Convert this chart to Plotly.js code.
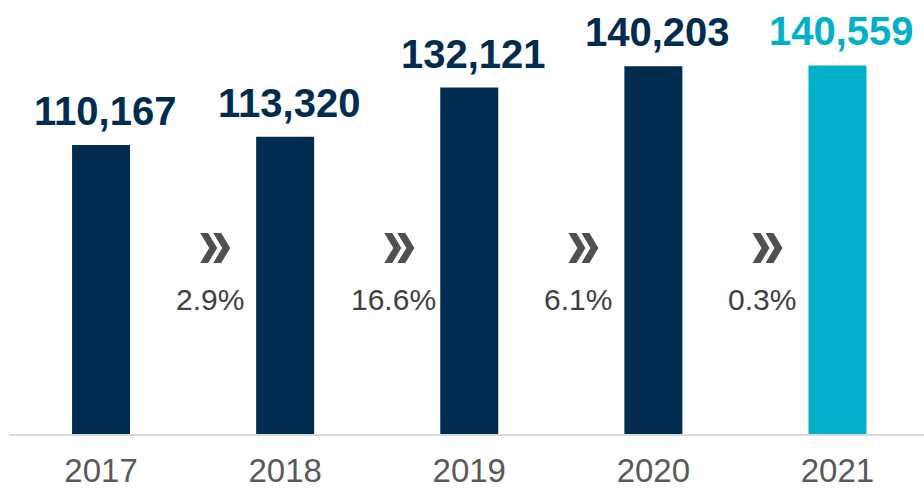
<!DOCTYPE html>
<html>
<head>
<meta charset="utf-8">
<script src="https://cdn.plot.ly/plotly-3.0.1.min.js"></script>
<style>
  html, body { margin: 0; padding: 0; background: #fff; }
  #plot { width: 924px; height: 491px; }
</style>
</head>
<body>
<div id="plot"></div>
<script>
// datos
const years = ["2017", "2018", "2019", "2020", "2021"];
const totals = [110167, 113320, 132121, 140203, 140559];
const growth = ["2.9%", "16.6%", "6.1%", "0.3%"];

const navy = "#002c50";
const teal = "#00b0c8";
const barColors = years.map((y, i) => i === years.length - 1 ? teal : navy);

function fmt(n) {
  return n.toString().replace(/\B(?=(\d{3})+(?!\d))/g, ",");
}

const bars = {
  x: years.map((y, i) => i),
  y: totals,
  type: "bar",
  width: 0.315,
  marker: { color: barColors },
  hoverinfo: "skip"
};

// etiquetas de valor encima de cada barra
const annotations = totals.map((v, i) => ({
  x: i, y: v, xref: "x", yref: "y",
  text: fmt(v),
  showarrow: false,
  yanchor: "bottom",
  yshift: 10,
  xshift: 4,
  font: { family: "Liberation Sans, Arial", size: 40, color: barColors[i], weight: "bold" }
}));

// porcentajes de crecimiento entre barras
growth.forEach((g, i) => {
  annotations.push({
    x: i + 0.59, y: 0, xref: "x", yref: "paper",
    text: g,
    showarrow: false,
    yanchor: "middle",
    yshift: 135,
    font: { family: "Liberation Sans, Arial", size: 30, color: "#404040" }
  });
});

// flechas dobles
const chev = "M-15,15 L-7,15 L2,0 L-7,-15 L-15,-15 L-6,0 Z M-2,15 L6,15 L15,0 L6,-15 L-2,-15 L7,0 Z";
const shapes = growth.map((g, i) => ({
  type: "path",
  xref: "x", yref: "paper",
  xsizemode: "pixel", ysizemode: "pixel",
  xanchor: i + 0.62, yanchor: 0,
  path: chev.replace(/(-?\d+),(-?\d+)/g, (m, a, b) => a + "," + (Number(b) + 186)),
  fillcolor: "#505050",
  line: { width: 0 }
}));

const layout = {
  width: 924, height: 491,
  margin: { l: 9, r: 0, t: 0, b: 57 },
  paper_bgcolor: "#fff", plot_bgcolor: "#fff",
  showlegend: false,
  xaxis: {
    range: [-0.5, 4.47],
    tickmode: "array",
    tickvals: years.map((y, i) => i),
    ticktext: years,
    ticks: "",
    showgrid: false,
    zeroline: false,
    showline: true,
    linecolor: "#d9d9d9",
    linewidth: 2,
    ticklabelstandoff: 6,
    tickfont: { family: "Liberation Sans, Arial", size: 33, color: "#595959" }
  },
  yaxis: {
    range: [0, 165500],
    visible: false,
    showgrid: false,
    zeroline: false
  },
  annotations: annotations,
  shapes: shapes
};

Plotly.newPlot("plot", [bars], layout, { displayModeBar: false, staticPlot: true });
</script>
</body>
</html>
